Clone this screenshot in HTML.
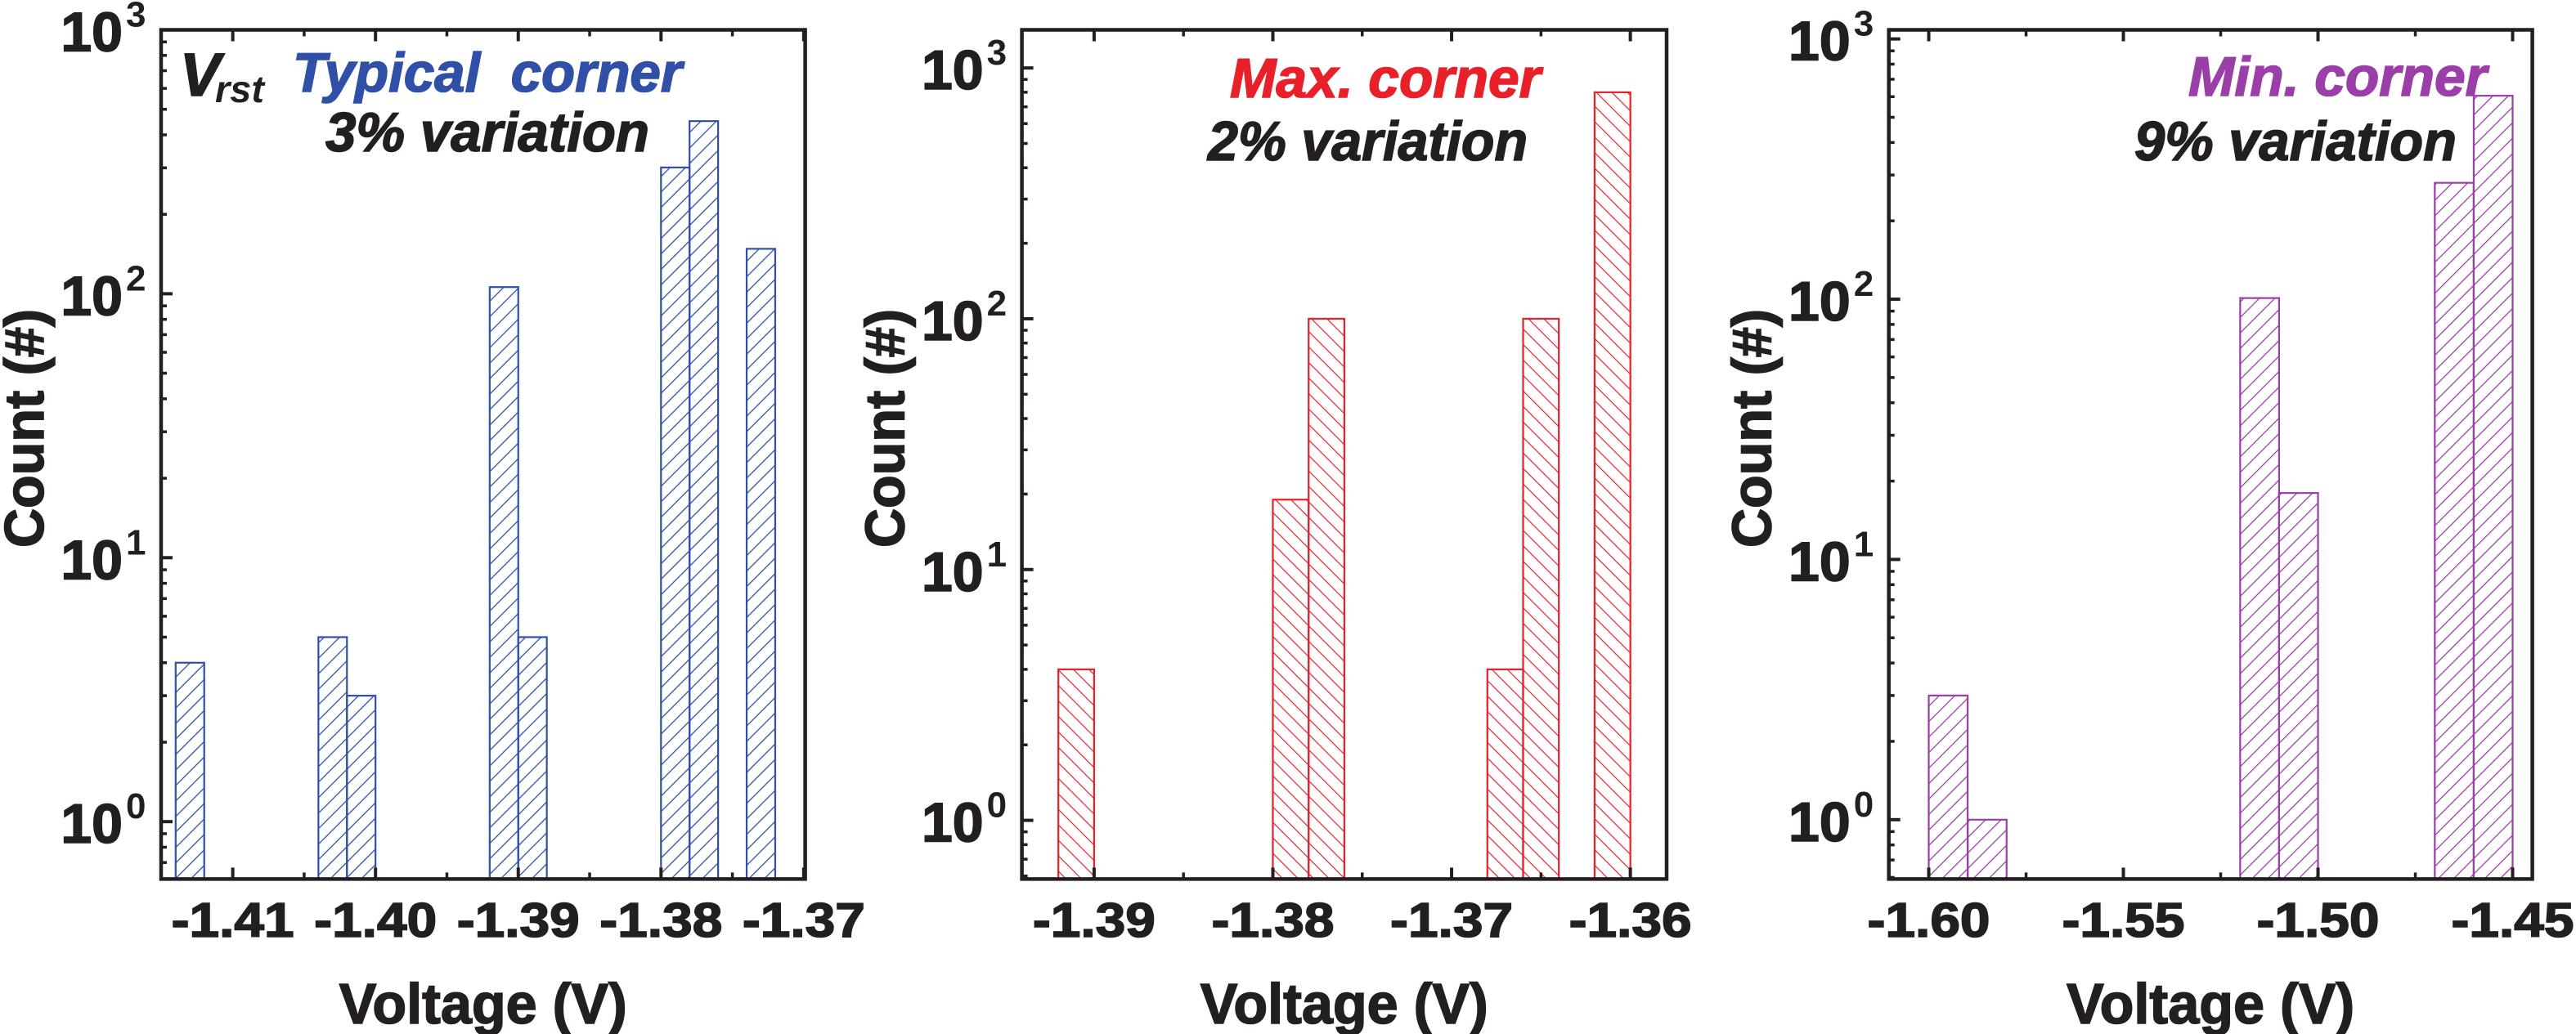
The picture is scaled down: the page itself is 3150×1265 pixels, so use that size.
<!DOCTYPE html>
<html><head><meta charset="utf-8"><style>
html,body{margin:0;padding:0;background:#fff;}
svg{display:block;font-family:"Liberation Sans",Arial,sans-serif;font-weight:bold;}
svg text{paint-order:stroke;stroke-width:1.6px;white-space:pre;}
</style></head><body>
<svg id="fig" width="3150" height="1265" viewBox="0 0 3150 1265" xmlns="http://www.w3.org/2000/svg" xml:space="preserve">
<defs>
<pattern id="hatchBlue" patternUnits="userSpaceOnUse" width="13.4" height="13.4" patternTransform="rotate(45)"><line x1="0" y1="0" x2="0" y2="13.4" stroke="#3050a8" stroke-width="2.6"/></pattern>
<pattern id="hatchRed" patternUnits="userSpaceOnUse" width="13.4" height="13.4" patternTransform="rotate(-45)"><line x1="0" y1="0" x2="0" y2="13.4" stroke="#e8202a" stroke-width="2.4"/></pattern>
<pattern id="hatchPurple" patternUnits="userSpaceOnUse" width="13.4" height="13.4" patternTransform="rotate(45)"><line x1="0" y1="0" x2="0" y2="13.4" stroke="#9b3fa8" stroke-width="2.6"/></pattern>
</defs>
</svg>
<script>
// Panel 1 (Typical corner)
const p1BinLeft = [-1.414, -1.404, -1.402, -1.392, -1.390, -1.380, -1.378, -1.374];
const p1Counts  = [4, 5, 3, 106, 5, 301, 451, 148];
const p1BinWidth = 0.002;
const p1XTicks = [-1.41, -1.40, -1.39, -1.38, -1.37];
const p1XTickLabels = ["-1.41", "-1.40", "-1.39", "-1.38", "-1.37"];
const p1XMinor = [-1.405, -1.395, -1.385, -1.375];
// Panel 2 (Max corner)
const p2BinLeft = [-1.392, -1.380, -1.378, -1.368, -1.366, -1.362];
const p2Counts  = [4, 19, 100, 4, 100, 800];
const p2BinWidth = 0.002;
const p2XTicks = [-1.39, -1.38, -1.37, -1.36];
const p2XTickLabels = ["-1.39", "-1.38", "-1.37", "-1.36"];
const p2XMinor = [-1.385, -1.375, -1.365];
// Panel 3 (Min corner)
const p3BinLeft = [-1.60, -1.59, -1.52, -1.51, -1.47, -1.46];
const p3Counts  = [3, 1, 101, 18, 280, 605];
const p3BinWidth = 0.01;
const p3XTicks = [-1.60, -1.55, -1.50, -1.45];
const p3XTickLabels = ["-1.60", "-1.55", "-1.50", "-1.45"];
const p3XMinor = [-1.575, -1.525, -1.475];
// shared y axis
const yDecades = [0, 1, 2, 3];
const yDecadeLabels = ["0", "1", "2", "3"];

const NS = "http://www.w3.org/2000/svg";
const svg = document.getElementById('fig');
function mk(tag, attrs, parent) {
  const e = document.createElementNS(NS, tag);
  for (const k in attrs) e.setAttribute(k, attrs[k]);
  (parent || svg).appendChild(e);
  return e;
}

const panels = [
  {name:'typical', L:197, R:984.6, T:36.5, B:1075.4, xmin:-1.41502, xmax:-1.3699, lmin:-0.2175, lmax:3.0,
   left:p1BinLeft, counts:p1Counts, w:p1BinWidth, ticks:p1XTicks, labels:p1XTickLabels, minor:p1XMinor,
   color:'#3050a8', fill:'url(#hatchBlue)'},
  {name:'max', L:1249.6, R:2038, T:36.5, B:1075.4, xmin:-1.39404, xmax:-1.35797, lmin:-0.234, lmax:3.152,
   left:p2BinLeft, counts:p2Counts, w:p2BinWidth, ticks:p2XTicks, labels:p2XTickLabels, minor:p2XMinor,
   color:'#e8202a', fill:'url(#hatchRed)'},
  {name:'min', L:2309.7, R:3096.6, T:36.5, B:1075.4, xmin:-1.61026, xmax:-1.44494, lmin:-0.228, lmax:3.035,
   left:p3BinLeft, counts:p3Counts, w:p3BinWidth, ticks:p3XTicks, labels:p3XTickLabels, minor:p3XMinor,
   color:'#9b3fa8', fill:'url(#hatchPurple)'}
];

panels.forEach((p) => {
  const xs = v => p.L + (v - p.xmin) / (p.xmax - p.xmin) * (p.R - p.L);
  const ys = c => p.B - (Math.log10(c) - p.lmin) / (p.lmax - p.lmin) * (p.B - p.T);
  const g = mk('g', {});
  
  

  p.left.forEach((lv, i) => {
    const x0 = xs(lv), x1 = xs(lv + p.w), y = ys(p.counts[i]);
    const r = mk('rect', {x:x0, y:y, width:x1 - x0, height:p.B - y, fill:p.fill, stroke:p.color, 'stroke-width':2.2}, g);
    
    
  });

  const fr = mk('rect', {x:p.L, y:p.T, width:p.R - p.L, height:p.B - p.T, fill:'none', stroke:'#231f20', 'stroke-width':4.5}, g);
  
  

  p.ticks.forEach((tv, i) => {
    const x = xs(tv);
    mk('line', {x1:x, x2:x, y1:p.B, y2:p.B - 14, stroke:'#231f20', 'stroke-width':4}, g);
    mk('line', {x1:x, x2:x, y1:p.T, y2:p.T + 14, stroke:'#231f20', 'stroke-width':4}, g);
    const t = mk('text', {x:x, y:1146, 'text-anchor':'middle', 'font-size':59, fill:'#231f20', stroke:'#231f20', textLength:150, lengthAdjust:'spacingAndGlyphs'}, g);
    t.textContent = p.labels[i];
    
    
  });
  p.minor.forEach(mv => {
    const x = xs(mv);
    mk('line', {x1:x, x2:x, y1:p.B, y2:p.B - 8, stroke:'#231f20', 'stroke-width':3.5}, g);
    mk('line', {x1:x, x2:x, y1:p.T, y2:p.T + 8, stroke:'#231f20', 'stroke-width':3.5}, g);
  });

  for (let d = -1; d <= 3; d++) {
    for (let m = 1; m <= 9; m++) {
      const v = m * Math.pow(10, d);
      const lv = Math.log10(v);
      if (lv < p.lmin || lv > p.lmax) continue;
      const y = ys(v);
      mk('line', {x1:p.L, x2:p.L + (m === 1 ? 14 : 7), y1:y, y2:y, stroke:'#231f20', 'stroke-width':m === 1 ? 4 : 3.5}, g);
    }
  }
  yDecades.forEach((d, i) => {
    const y = ys(Math.pow(10, d));
    const t = mk('text', {x:p.L - 47, y:y + 26, 'text-anchor':'end', 'font-size':68, fill:'#231f20', stroke:'#231f20'}, g);
    t.textContent = '10';
    
    
    const s = mk('text', {x:p.L - 43, y:y - 4, 'text-anchor':'start', 'font-size':44, fill:'#231f20'}, g);
    s.textContent = yDecadeLabels[i];
    
    
  });

  const xt = mk('text', {x:(p.L + p.R) / 2, y:1252, 'text-anchor':'middle', 'font-size':70, fill:'#231f20', stroke:'#231f20', textLength:352, lengthAdjust:'spacingAndGlyphs'}, g);
  xt.textContent = 'Voltage (V)';
  
  
  const yx = p.L - 144;
  const yt = mk('text', {x:yx, y:524, 'text-anchor':'middle', 'font-size':68, fill:'#231f20', stroke:'#231f20', transform:'rotate(-90 ' + yx + ' 524)', textLength:292, lengthAdjust:'spacingAndGlyphs'}, g);
  yt.textContent = 'Count (#)';
  
  
});

function ann(txt, x, y, size, len, color, name) {
  const t = mk('text', {x:x, y:y, 'font-size':size, 'font-style':'italic', fill:color, stroke:color, textLength:len, lengthAdjust:'spacingAndGlyphs'});
  t.textContent = txt;
  
  
}
const v = mk('text', {x:220, y:117, 'font-size':74, 'font-style':'italic', fill:'#231f20', stroke:'#231f20'});
v.textContent = 'V';


const sub = mk('text', {x:263, y:125, 'font-size':46, 'font-style':'italic', fill:'#231f20', textLength:60, lengthAdjust:'spacingAndGlyphs'});
sub.textContent = 'rst';


ann('Typical  corner', 358, 112, 68, 476, '#3050a8', 'typical-corner-label');
ann('3% variation', 398, 185, 68, 396, '#231f20', 'variation-3-label');
ann('Max. corner', 1504, 119, 68, 380, '#e8202a', 'max-corner-label');
ann('2% variation', 1477, 196, 68, 391, '#231f20', 'variation-2-label');
ann('Min. corner', 2676, 117, 68, 365, '#9b3fa8', 'min-corner-label');
ann('9% variation', 2610, 196, 68, 394, '#231f20', 'variation-9-label');
</script>
</body></html>
